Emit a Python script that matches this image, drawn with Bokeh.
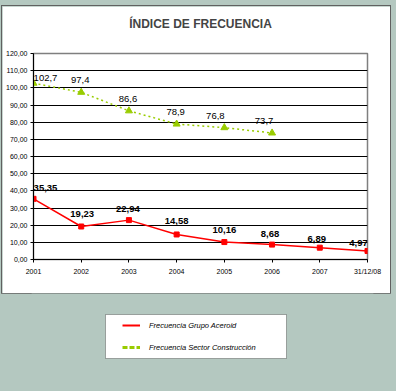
from bokeh.plotting import figure
from bokeh.layouts import column
from bokeh.models import (ColumnDataSource, Range1d, FixedTicker, BoxAnnotation,
                          LabelSet, Legend, LegendItem, Title)
from bokeh.core.properties import value
from bokeh.embed import file_html
from bokeh.resources import INLINE

# ---- data ----
title_text = "ÍNDICE DE FRECUENCIA"
x_labels = ["2001", "2002", "2003", "2004", "2005", "2006", "2007", "31/12/08"]
grupo = [35.35, 19.23, 22.94, 14.58, 10.16, 8.68, 6.89, 4.97]
grupo_labels = ["35,35", "19,23", "22,94", "14,58", "10,16", "8,68", "6,89", "4,97"]
sector = [102.7, 97.4, 86.6, 78.9, 76.8, 73.7]
sector_labels = ["102,7", "97,4", "86,6", "78,9", "76,8", "73,7"]
y_ticks = [0, 10, 20, 30, 40, 50, 60, 70, 80, 90, 100, 110, 120]
y_tick_labels = ["0,00", "10,00", "20,00", "30,00", "40,00", "50,00", "60,00",
                 "70,00", "80,00", "90,00", "100,00", "110,00", "120,00"]
series_names = ["Frecuencia Grupo Aceroid", "Frecuencia Sector Construcción"]

# ---- styles ----
BG = "#b4c8c0"
RED = "#ff0000"
GREEN = "#99cc00"
SANS = "Liberation Sans"
grupo_dx = [12, 1, -1, 0, 0, -2, -3, -9]
grupo_dy = [11, 12, 11, 13, 12, 11, 9, 8]
sector_dx = [12, -1, -1, -1, -9, -8]
sector_dy = [5, 12, 12, 12, 12, 12]
NBSP = "\u00a0"
NAN = float("nan")

BORDER_L = 31          # left border of the chart (frame aligned across the column)
MARGIN_L = 2

# ---- main chart panel ----
p = figure(width=388, height=287, margin=(6, 6, 0, MARGIN_L),
           output_backend="svg", toolbar_location=None,
           x_range=Range1d(0, len(x_labels) - 1), y_range=Range1d(y_ticks[0], y_ticks[-1]),
           min_border_left=BORDER_L, min_border_right=23, min_border_top=47,
           min_border_bottom=34,
           styles={"outline": "1px solid #606060"})
p.border_fill_color = "white"
p.background_fill_color = "white"
p.outline_line_color = "#7f7f7f"
p.outline_line_width = 1.5

# real title, with a blank spacer title between it and the frame
p.title.text = title_text
p.title.align = "center"
p.title.vertical_align = "bottom"
p.title.text_font = SANS
p.title.text_font_size = "12px"
p.title.text_font_style = "bold"
p.title.standoff = 0
p.title.offset = -2
p.add_layout(Title(text=NBSP, text_font_size="2px", standoff=19), "above")

p.xaxis.ticker = FixedTicker(ticks=list(range(len(x_labels))))
p.xaxis.major_label_overrides = {i: lab for i, lab in enumerate(x_labels)}
p.yaxis.ticker = FixedTicker(ticks=y_ticks)
p.yaxis.major_label_overrides = {t: lab for t, lab in zip(y_ticks, y_tick_labels)}
for ax in (p.xaxis, p.yaxis):
    ax.axis_line_color = "black"
    ax.major_tick_line_color = "black"
    ax.major_tick_out = 3
    ax.major_tick_in = 0
    ax.minor_tick_line_color = None
    ax.major_label_text_font = SANS
    ax.major_label_text_color = "black"
    ax.axis_label_standoff = 0
p.yaxis.major_label_text_font_size = "7px"
p.yaxis.major_label_standoff = 3
p.xaxis.major_label_text_font_size = "7px"
p.xaxis.major_label_standoff = 5
p.xgrid.grid_line_color = None
p.ygrid.grid_line_color = "black"
p.ygrid.grid_line_width = 1

xg = list(range(len(grupo)))
xs = list(range(len(sector)))
src_g = ColumnDataSource(dict(x=xg, y=grupo, lab=grupo_labels, dx=grupo_dx, dy=grupo_dy))
src_s = ColumnDataSource(dict(x=xs, y=sector, lab=sector_labels, dx=sector_dx, dy=sector_dy))

p.line("x", "y", source=src_s, line_color=GREEN, line_width=1.5, line_dash="2 3")
p.scatter("x", "y", source=src_s, marker="triangle", size=7,
          fill_color=GREEN, line_color=GREEN)
p.line("x", "y", source=src_g, line_color=RED, line_width=1.5)
p.scatter("x", "y", source=src_g, marker="square", size=5,
          fill_color=RED, line_color=RED)

p.add_layout(LabelSet(x="x", y="y", text="lab", source=src_s, x_offset="dx", y_offset="dy",
                      text_align="center", text_baseline="middle",
                      text_font=value(SANS), text_font_size="9.5px", text_color="black"))
p.add_layout(LabelSet(x="x", y="y", text="lab", source=src_g, x_offset="dx", y_offset="dy",
                      text_align="center", text_baseline="middle",
                      text_font=value(SANS), text_font_size="9.5px", text_font_style="bold",
                      text_color="black"))

# ---- legend strip ----
LH = 98
SHIFT = BORDER_L  # the strip's frame is aligned with the chart's left border
lf = figure(width=396, height=LH, margin=(0, 0, 0, 0),
            output_backend="svg", toolbar_location=None,
            x_axis_location=None, y_axis_location=None,
            x_range=Range1d(0, 1), y_range=Range1d(0, 1),
            min_border_left=0, min_border_right=0, min_border_top=0, min_border_bottom=0)
lf.grid.grid_line_color = None
lf.outline_line_color = None
lf.border_fill_color = BG
lf.background_fill_color = BG
lf.add_layout(BoxAnnotation(left=105 - SHIFT, right=286 - SHIFT, top=LH - 21, bottom=LH - 65,
                            left_units="screen", right_units="screen",
                            top_units="screen", bottom_units="screen",
                            fill_color="white", fill_alpha=1,
                            line_color="black", line_width=1, level="underlay"))
lr = lf.line(x=[NAN, NAN], y=[NAN, NAN], line_color=RED, line_width=2)
lg = lf.line(x=[NAN, NAN], y=[NAN, NAN], line_color=GREEN, line_width=3, line_dash="5 2")
legend = Legend(items=[LegendItem(label=series_names[0], renderers=[lr]),
                       LegendItem(label=series_names[1], renderers=[lg])],
                location=(117 - SHIFT, LH - 65), margin=0, padding=5, spacing=10,
                label_height=12, glyph_height=12, glyph_width=18, label_standoff=9,
                label_text_font=SANS, label_text_font_size="7.5px",
                label_text_font_style="italic", label_text_color="black",
                background_fill_alpha=0, border_line_alpha=0)
lf.add_layout(legend)

page = column(p, lf, spacing=0, styles={"background-color": BG})

html = file_html(page, INLINE)
html = html.replace("<body>", '<body style="background-color:%s">' % BG, 1)
open("out.html", "w").write(html)
